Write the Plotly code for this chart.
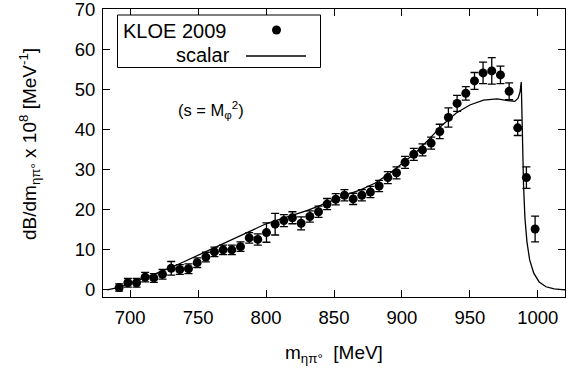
import plotly.graph_objects as go

# KLOE 2009 eta-pi0 invariant mass spectrum (MeV, dB/dm x 1e8 per MeV)
mass = [691.9, 698.3, 704.7, 711.0, 717.4, 723.8, 730.2, 736.5, 742.9, 749.3,
        755.7, 762.0, 768.4, 774.8, 781.2, 787.6, 793.9, 800.3, 806.7, 813.1,
        819.4, 825.8, 832.2, 838.6, 844.9, 851.3, 857.7, 864.1, 870.5, 876.8,
        883.2, 889.6, 896.0, 902.3, 908.7, 915.1, 921.5, 927.8, 934.2, 940.6,
        947.0, 953.4, 959.7, 966.1, 972.5, 978.9, 985.2, 991.6, 998.0]
rate = [0.6, 1.8, 1.8, 3.2, 3.0, 3.9, 5.4, 5.1, 5.3, 6.8,
        8.2, 9.5, 10.0, 10.0, 10.8, 13.0, 12.6, 14.3, 16.4, 17.3,
        18.0, 16.6, 18.3, 19.5, 21.4, 22.6, 23.6, 22.7, 23.6, 24.4,
        25.9, 28.0, 29.2, 31.8, 33.8, 34.9, 36.6, 39.5, 43.0, 46.5,
        49.0, 52.1, 54.1, 54.6, 53.6, 49.5, 40.4, 28.0, 15.2]
rate_err = [0.9, 1.1, 1.1, 1.2, 1.1, 1.2, 1.7, 1.2, 1.2, 1.2,
            1.2, 1.2, 1.2, 1.2, 1.2, 1.3, 1.4, 2.4, 2.7, 1.5,
            1.5, 1.6, 1.4, 1.4, 1.4, 1.4, 1.4, 1.4, 1.4, 1.4,
            1.4, 1.5, 1.5, 1.5, 1.5, 1.5, 1.5, 1.8, 2.4, 2.0,
            1.7, 2.1, 2.7, 3.3, 2.2, 2.1, 1.9, 2.7, 3.2]

# scalar-exchange model curve
model_mass = [683.0, 690.0, 700.0, 710.0, 720.0, 730.0, 740.0, 750.0, 760.0, 770.0,
              780.0, 790.0, 800.0, 810.0, 820.0, 830.0, 840.0, 850.0, 860.0, 870.0,
              880.0, 890.0, 900.0, 910.0, 920.0, 930.0, 940.0, 950.0, 960.0, 970.0,
              978.0, 983.0, 985.5, 987.0, 987.8, 988.3, 988.8, 989.5, 990.5, 992.0,
              994.0, 997.0, 1001.0, 1006.0, 1012.0, 1020.0]
model_rate = [0.0, 0.5, 1.6, 2.9, 4.2, 5.6, 7.1, 8.7, 10.3, 11.9,
              13.5, 15.0, 16.5, 17.6, 18.7, 19.8, 21.1, 22.5, 23.8, 25.0,
              26.6, 28.8, 31.4, 34.2, 37.6, 41.2, 44.1, 46.1, 47.3, 47.6,
              47.2, 47.0, 47.8, 49.5, 51.8, 44.0, 34.0, 26.0, 18.0, 12.0,
              7.5, 4.2, 2.0, 0.8, 0.25, 0.05]

x_ticks = [700, 750, 800, 850, 900, 950, 1000]
y_ticks = [0, 10, 20, 30, 40, 50, 60, 70]

FONT = "Liberation Sans, Arial, sans-serif"

fig = go.Figure()
fig.add_trace(go.Scatter(
    x=model_mass, y=model_rate, mode="lines",
    line=dict(color="black", width=1.3), name="scalar", showlegend=False))
fig.add_trace(go.Scatter(
    x=mass, y=rate, mode="markers", name="KLOE 2009", showlegend=False,
    marker=dict(color="black", size=9),
    error_y=dict(type="data", array=rate_err, color="black", thickness=1.3, width=4)))

axis_common = dict(showline=True, linecolor="black", linewidth=1, mirror="ticks",
                   ticks="inside", ticklen=7, tickcolor="black", tickwidth=1,
                   showgrid=False, zeroline=False, ticklabeloverflow="allow",
                   automargin=False,
                   tickfont=dict(family=FONT, size=18.5, color="black"))
fig.update_xaxes(range=[680, 1020], tickvals=x_ticks, ticklabelstandoff=4, **axis_common)
fig.update_yaxes(range=[-1.75, 70.02], tickvals=y_ticks, ticklabelstandoff=3, **axis_common)

W, H = 585, 373
L, R, T, B = 103, 20, 9, 76
pw, ph = W - L - R, H - T - B


def px(xp):
    return (xp - L) / pw


def py(yp):
    return (H - B - yp) / ph


# legend box drawn in gnuplot style: label on the left, sample on the right
shapes = [
    dict(type="rect", xref="paper", yref="paper", x0=px(117.5), x1=px(320.5),
         y0=py(67.5), y1=py(15), line=dict(color="black", width=1), fillcolor="white"),
    dict(type="circle", xref="paper", yref="paper", xsizemode="pixel", ysizemode="pixel",
         xanchor=px(276.5), yanchor=py(30), x0=-4.5, x1=4.5, y0=-4.5, y1=4.5,
         fillcolor="black", line=dict(color="black", width=0)),
    dict(type="line", xref="paper", yref="paper", x0=px(246), x1=px(306),
         y0=py(56), y1=py(56), line=dict(color="black", width=1.3)),
]

annotations = [
    dict(text="KLOE 2009", xref="paper", yref="paper", x=px(121), y=py(31),
         xanchor="left", yanchor="middle", showarrow=False,
         font=dict(family=FONT, size=20, color="black")),
    dict(text="scalar", xref="paper", yref="paper", x=px(232), y=py(55),
         xanchor="right", yanchor="middle", showarrow=False,
         font=dict(family=FONT, size=20, color="black")),
    dict(text="(s = M<sub>φ</sub><sup>2</sup>)", xref="paper", yref="paper",
         x=px(176), y=py(110), xanchor="left", yanchor="middle", showarrow=False,
         font=dict(family=FONT, size=16.5, color="black")),
    dict(text="dB/dm<sub>ηπ°</sub> x 10<sup>8</sup> [MeV<sup>-1</sup>]",
         xref="paper", yref="paper", x=px(29), y=py(144), textangle=-90,
         xanchor="center", yanchor="middle", showarrow=False,
         font=dict(family=FONT, size=19, color="black")),
    dict(text="m<sub>ηπ°</sub>  [MeV]", xref="paper", yref="paper",
         x=px(334), y=py(354), xanchor="center", yanchor="middle", showarrow=False,
         font=dict(family=FONT, size=19, color="black")),
]

fig.update_layout(
    width=W, height=H, margin=dict(l=L, r=R, t=T, b=B, autoexpand=False),
    paper_bgcolor="white", plot_bgcolor="white",
    shapes=shapes, annotations=annotations, showlegend=False,
)

fig.write_html("out.html")
